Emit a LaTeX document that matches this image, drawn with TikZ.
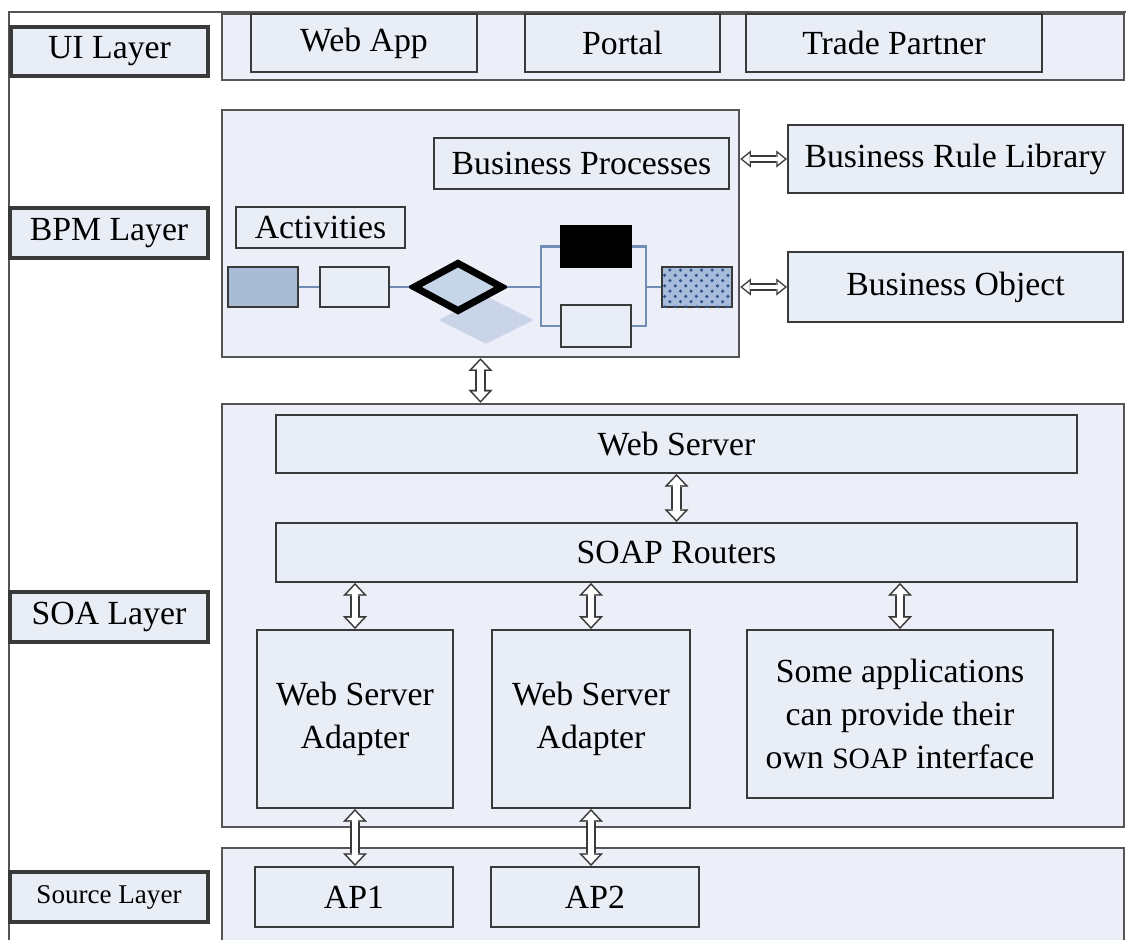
\documentclass[tikz,border=0pt]{standalone}
\usepackage{fontspec}
\setmainfont{Liberation Serif}
\usetikzlibrary{arrows.meta,calc,positioning,shapes.geometric,patterns}
\definecolor{boxfill}{HTML}{E9EDF6}
\definecolor{ctrfill}{HTML}{ECEFF7}
\definecolor{boxline}{HTML}{3A3A3A}
\definecolor{ctrline}{HTML}{555555}
\definecolor{flowblue}{HTML}{6F8DB5}
\definecolor{actfill}{HTML}{A9BCD6}
\definecolor{gwfill}{HTML}{C7D5E8}
\definecolor{shadowfill}{HTML}{C4D0E6}
\definecolor{dotfill}{HTML}{A7BCDA}
\definecolor{dotblue}{HTML}{2F5590}
\newcommand{\mainsize}{\fontsize{9.6}{12.2}\selectfont}
\tikzset{
boxstyle/.style={
  draw=boxline,
  line width=0.6pt,
  fill=boxfill,
  inner sep=0pt,
  align=center,
  font=\mainsize,
  }
}
\tikzset{
layerstyle/.style={
  boxstyle,
  line width=0.9pt,
  }
}
\tikzset{
ctrstyle/.style={
  draw=ctrline,
  line width=0.7pt,
  fill=ctrfill,
  inner sep=0pt,
  }
}
\tikzset{
flowline/.style={
  draw=flowblue,
  line width=0.6pt,
  }
}
\tikzset{
bigarrow/.style={
  line width=1.85pt,
  white,
  shorten <=0.65pt, shorten >=0.65pt,
  {Triangle[length=2.5pt,width=4.7pt,line width=0.01pt]}-{Triangle[length=2.5pt,width=4.7pt,line width=0.01pt]},
  preaction={draw=boxline, line width=2.85pt, shorten <=0pt, shorten >=0pt,
    {Triangle[length=3.6pt,width=6.8pt,line width=0.01pt]}-{Triangle[length=3.6pt,width=6.8pt,line width=0.01pt]}},
  }
}
\tikzset{
smallarrow/.style={
  line width=1.2pt,
  white,
  shorten <=0.64pt, shorten >=0.64pt,
  {Triangle[length=1.96pt,width=3.1pt,line width=0.01pt]}-{Triangle[length=1.96pt,width=3.1pt,line width=0.01pt]},
  preaction={draw=boxline, line width=2pt, shorten <=0pt, shorten >=0pt,
    {Triangle[length=3pt,width=4.8pt,line width=0.01pt]}-{Triangle[length=3pt,width=4.8pt,line width=0.01pt]}},
  }
}

\begin{document}
\begin{tikzpicture}[x=0.01cm, y=-0.01cm]
    \useasboundingbox (0,0) rectangle (1126,940);
    \clip (0,0) rectangle (1126,940);
    \fill[white] (0,0) rectangle (1126,940);
    \draw[ctrline, line width=0.7pt] (9,940) -- (9,12) -- (1126,12);

    % layer containers
    \node[ctrstyle, minimum width=9.02cm, minimum height=0.66cm] (uictr) at (673,47) {};
    \node[ctrstyle, minimum width=5.17cm, minimum height=2.47cm] (bpmctr) at (480.5,233.5) {};
    \node[ctrstyle, minimum width=9.02cm, minimum height=4.23cm] (soactr) at (673,615.5) {};
    \node[ctrstyle, minimum width=9.02cm, minimum height=1.10cm] (srcctr) at (673,903) {};

    % layer labels
    \node[layerstyle, minimum width=1.97cm, minimum height=0.49cm] (uilab) at (109.5,51.5) {UI Layer};
    \node[layerstyle, minimum width=1.98cm, minimum height=0.50cm] (bpmlab) at (109,233) {BPM Layer};
    \node[layerstyle, minimum width=1.98cm, minimum height=0.50cm] (soalab) at (109,617) {SOA Layer};
    \node[layerstyle, minimum width=1.98cm, minimum height=0.50cm, font=\fontsize{7.7}{9}\selectfont] (srclab) at (109,897) {Source Layer};

    % UI layer
    \node[boxstyle, minimum width=2.26cm, minimum height=0.58cm] (webapp) at (364,43) {Web App};
    \node[boxstyle, minimum width=1.95cm, minimum height=0.58cm] (portal) at (622.5,43) {Portal};
    \node[boxstyle, minimum width=2.96cm, minimum height=0.58cm] (trade) at (894,43) {Trade Partner};

    % BPM layer
    \node[boxstyle, minimum width=2.95cm, minimum height=0.51cm] (bp) at (581.5,163.5) {Business Processes};
    \node[boxstyle, minimum width=1.69cm, minimum height=0.41cm] (act) at (320.5,227.5) {Activities};
    \node[boxstyle, fill=actfill, minimum width=0.70cm, minimum height=0.40cm] (a1) at (263,287) {};
    \node[boxstyle, minimum width=0.69cm, minimum height=0.40cm] (a2) at (354.5,287) {};
    \node[diamond, fill=shadowfill, fill opacity=0.85, inner sep=0pt, minimum width=0.96cm, minimum height=0.48cm] (gwshadow) at (486,320) {};
    \node[diamond, draw=black, line width=2pt, fill=gwfill, inner sep=0pt, minimum width=0.90cm, minimum height=0.50cm] (gw) at (458,287) {};
    \node[boxstyle, fill=black, draw=black, minimum width=0.70cm, minimum height=0.41cm] (t1) at (596,246.5) {};
    \node[boxstyle, minimum width=0.70cm, minimum height=0.42cm] (t2) at (596,326) {};
    \node[boxstyle, fill=dotfill, postaction={pattern=crosshatch dots, pattern color=dotblue}, minimum width=0.70cm, minimum height=0.40cm] (a3) at (697,287) {};
    \coordinate (split) at (541,287);
    \coordinate (merge) at (646,287);

    \draw[flowline] (a1) -- (a2);
    \draw[flowline] (a2) -- (gw);
    \draw[flowline] (gw) -- (split);
    \draw[flowline] (t1.west) -| (split) |- (t2.west);
    \draw[flowline] (t1.east) -| (merge) |- (t2.east);
    \draw[flowline] (merge) -- (a3);

    \node[boxstyle, minimum width=3.35cm, minimum height=0.68cm] (brl) at (955.5,159) {Business Rule Library};
    \node[boxstyle, minimum width=3.35cm, minimum height=0.70cm] (bo) at (955.5,287) {Business Object};

    % SOA layer
    \node[boxstyle, minimum width=8.01cm, minimum height=0.58cm] (ws) at (676.5,444) {Web Server};
    \node[boxstyle, minimum width=8.01cm, minimum height=0.59cm] (soap) at (676.5,552.5) {SOAP Routers};
    \node[boxstyle, minimum width=1.96cm, minimum height=1.78cm] (wsa1) at (355,719) {Web Server\\Adapter};
    \node[boxstyle, minimum width=1.98cm, minimum height=1.78cm] (wsa2) at (591,719) {Web Server\\Adapter};
    \node[boxstyle, minimum width=3.06cm, minimum height=1.68cm] (app) at (900,714) {Some applications\\can provide their\\own {\fontsize{8.4}{12.2}\selectfont SOAP} interface};

    % source layer
    \node[boxstyle, minimum width=1.98cm, minimum height=0.60cm] (ap1) at (354,897) {AP1};
    \node[boxstyle, minimum width=2.08cm, minimum height=0.60cm] (ap2) at (595,897) {AP2};

    \draw[smallarrow] (bpmctr.east |- brl.west) -- (brl.west);
    \draw[smallarrow] (bpmctr.east |- bo.west) -- (bo.west);
    \draw[bigarrow] (bpmctr.south) -- (bpmctr.south |- soactr.north);
    \draw[bigarrow] (ws.south) -- (soap.north);
    \draw[bigarrow] (wsa1.north |- soap.south) -- (wsa1.north);
    \draw[bigarrow] (wsa2.north |- soap.south) -- (wsa2.north);
    \draw[bigarrow] (app.north |- soap.south) -- (app.north);
    \draw[bigarrow] (wsa1.south) -- (wsa1.south |- ap1.north);
    \draw[bigarrow] (wsa2.south) -- (wsa2.south |- ap2.north);
\end{tikzpicture}
\end{document}
